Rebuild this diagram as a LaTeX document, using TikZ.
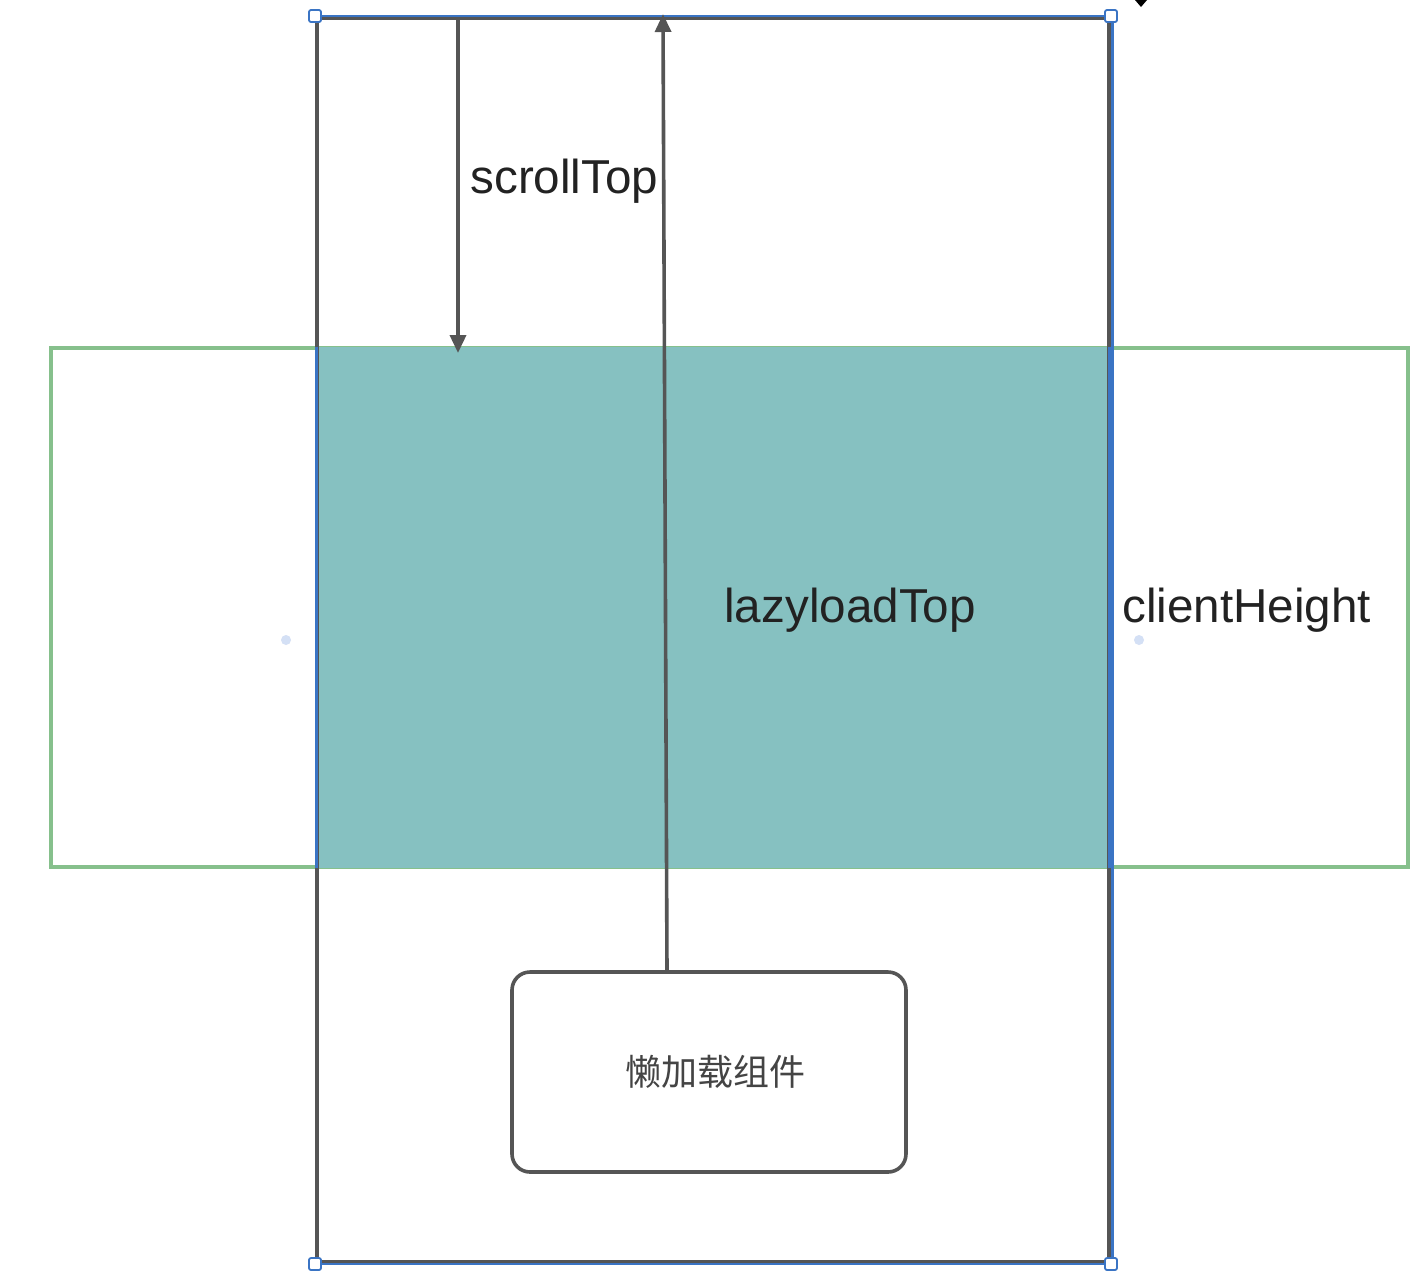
\documentclass[tikz,border=0pt]{standalone}
\usepackage{fontspec}
\setmainfont{Liberation Sans}
\newfontfamily\cjk{Noto Sans CJK SC}
\usetikzlibrary{arrows.meta}
\definecolor{edgegray}{HTML}{555555}
\definecolor{selblue}{HTML}{3A74C4}
\definecolor{tealfill}{HTML}{86C1C1}
\definecolor{greenline}{HTML}{86C08C}
\definecolor{dotblue}{HTML}{D4E0F5}
\definecolor{txt}{HTML}{222222}
\begin{document}
\begin{tikzpicture}[x=0.5pt,y=-0.5pt,
  frame/.style={draw=edgegray,line width=2pt,minimum width=396pt,minimum height=622pt,inner sep=0pt},
  viewport/.style={draw=greenline,line width=1.6pt,fill=white,minimum width=678.5pt,minimum height=259.5pt,inner sep=0pt},
  visible/.style={fill=tealfill,minimum width=396pt,minimum height=260.5pt,inner sep=0pt},
  compbox/.style={draw=edgegray,line width=1.8pt,rounded corners=9pt,fill=white,minimum width=197pt,minimum height=100pt,inner sep=0pt,font=\cjk\fontsize{18pt}{20pt}\selectfont,text=edgegray!80!black},
  label/.style={font=\fontsize{23.8pt}{26pt}\selectfont,text=txt,inner sep=0pt,anchor=west},
  measure/.style={draw=edgegray,line width=1.8pt,-{Triangle[length=9pt,width=8pt]}},
  handle/.style={draw=selblue,line width=0.9pt,fill=white,rounded corners=1pt,minimum size=6pt,inner sep=0pt},
  dot/.style={circle,fill=dotblue,minimum size=5pt,inner sep=0pt}]
\useasboundingbox (0,0) rectangle (1414,1276);
% viewport (green) and visible area (teal)
\node[viewport] (view) at (729.5,607.5) {};
\node[visible] (vis) at (713,607.5) {};
% outer document frame
\node[frame] (doc) at (713,640) {};
\draw[selblue,line width=1.2pt] (doc.north west) -- (doc.north east);
\draw[selblue,line width=1.2pt] (doc.south west) -- (doc.south east);
\draw[selblue,line width=1.2pt] ([xshift=0.8pt]doc.north east) -- ([xshift=0.8pt]doc.south east);
\draw[selblue,line width=1.2pt] (vis.north west) -- (vis.south west);
\draw[selblue,line width=1.2pt] (vis.north east) -- (vis.south east);
% side dots
\node[dot] (dl) at (286,640) {};
\node[dot] (dr) at (1139,640) {};
% lazy-load component
\node[compbox] (comp) at (709,1072) {\hspace*{6pt}懒加载组件};
% arrows
\coordinate (sTop) at (458,18);
\coordinate (sBot) at (458,353);
\draw[measure] (sTop) -- (sBot);
\coordinate (lzS) at (667,972);
\coordinate (lzE) at (663,14);
\draw[measure] (lzS) -- (lzE);
% labels
\node[label] (lscroll) at (470,181) {scrollTop};
\node[label] (llazy) at (724,610) {lazyloadTop};
\node[label] (lclient) at (1122,610) {clientHeight};
% selection handles
\node[handle] (h1) at (doc.north west) {};
\node[handle] (h2) at (doc.north east) {};
\node[handle] (h3) at (doc.south west) {};
\node[handle] (h4) at (doc.south east) {};
% tiny cut-off arrow at the top right
\coordinate (tipA) at (1135,0);
\coordinate (tipB) at (1147,0);
\coordinate (tipC) at (1141,7);
\fill[black] (tipA) -- (tipB) -- (tipC) -- cycle;
\end{tikzpicture}
\end{document}
